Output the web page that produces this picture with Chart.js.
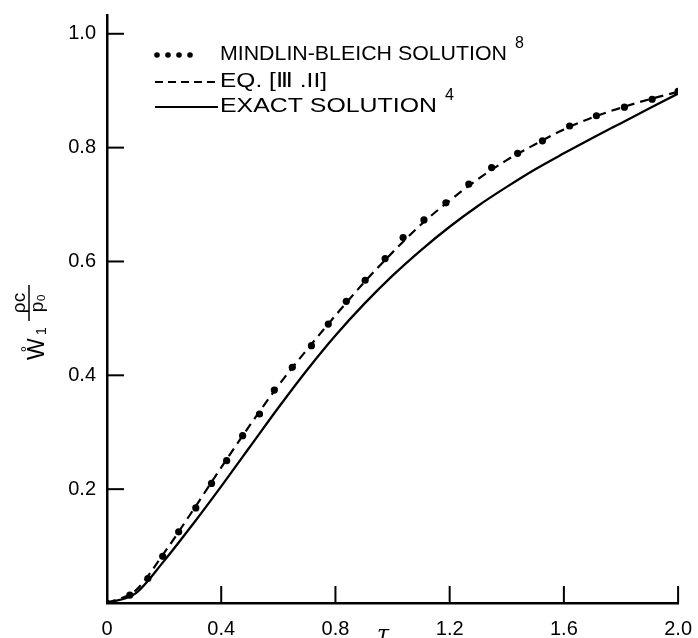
<!DOCTYPE html>
<html>
<head>
<meta charset="utf-8">
<script src="https://cdn.jsdelivr.net/npm/chart.js@4/dist/chart.umd.min.js"></script>
<style>
  html, body { margin: 0; padding: 0; background: #fff; }
</style>
</head>
<body>
<canvas id="chart" width="698" height="638"></canvas>
<script>
// Mindlin-Bleich solution (dots)
var mindlin_tau = [0, 0.08, 0.143, 0.195, 0.251, 0.311, 0.366, 0.419, 0.475, 0.534, 0.586, 0.649, 0.716, 0.775, 0.838, 0.904, 0.974, 1.037, 1.110, 1.187, 1.267, 1.347, 1.438, 1.525, 1.620, 1.714, 1.812, 1.909, 2.0]
var mindlin_w = [0, 0.014, 0.043, 0.082, 0.125, 0.167, 0.210, 0.250, 0.294, 0.332, 0.374, 0.414, 0.452, 0.490, 0.530, 0.567, 0.605, 0.642, 0.673, 0.703, 0.736, 0.765, 0.790, 0.812, 0.838, 0.856, 0.871, 0.885, 0.899]

// Eq. [III.11] (dashed) and exact solution (solid)
var curve_tau = [0, 0.1, 0.2, 0.3, 0.4, 0.5, 0.6, 0.7, 0.8, 0.9, 1.0, 1.1, 1.2, 1.3, 1.4, 1.5, 1.6, 1.7, 1.8, 1.9, 2.0]
var eq_w = [0, 0.022, 0.088, 0.162, 0.238, 0.312, 0.382, 0.445, 0.505, 0.563, 0.616, 0.665, 0.707, 0.745, 0.778, 0.806, 0.832, 0.853, 0.870, 0.885, 0.898]
var exact_w = [0, 0.017, 0.074, 0.138, 0.205, 0.274, 0.343, 0.409, 0.470, 0.525, 0.575, 0.620, 0.661, 0.698, 0.731, 0.762, 0.790, 0.817, 0.843, 0.869, 0.895]

var x_ticks = [0, 0.4, 0.8, 1.2, 1.6, 2.0]
var y_ticks = [0.2, 0.4, 0.6, 0.8, 1.0]

var legend_labels = ['MINDLIN-BLEICH SOLUTION', 'EQ. [\u2162 .II]', 'EXACT SOLUTION']
var legend_sups = ['8', '', '4']

function pairs(xs, ys) {
  return xs.map(function (x, i) { return { x: x, y: ys[i] } })
}

var FONT = '"Liberation Sans", Arial, sans-serif'

var decor = {
  id: 'decor',
  beforeDraw: function (chart) {
    var ctx = chart.ctx
    ctx.save()
    ctx.fillStyle = '#fff'
    ctx.fillRect(0, 0, chart.width, chart.height)
    ctx.restore()
  },
  afterDraw: function (chart) {
    var ctx = chart.ctx
    var xs = chart.scales.x, ys = chart.scales.y
    var area = chart.chartArea
    ctx.save()
    ctx.strokeStyle = '#000'
    ctx.fillStyle = '#000'

    // inward tick marks
    ctx.lineWidth = 2
    x_ticks.forEach(function (v) {
      if (v === 0) return
      var px = xs.getPixelForValue(v)
      ctx.beginPath(); ctx.moveTo(px, area.bottom); ctx.lineTo(px, area.bottom - 17); ctx.stroke()
    })
    y_ticks.forEach(function (v) {
      var py = ys.getPixelForValue(v)
      ctx.beginPath(); ctx.moveTo(area.left, py); ctx.lineTo(area.left + 17, py); ctx.stroke()
    })

    // legend
    var rows = [
      { y: 60, mark: 'dots', width: 287 },
      { y: 87, mark: 'dash', width: 107 },
      { y: 112, mark: 'line', width: 217 }
    ]
    rows.forEach(function (r, i) {
      if (r.mark === 'dots') {
        [157, 168, 179, 190].forEach(function (dx) {
          ctx.beginPath(); ctx.arc(dx, r.y - 5, 2.8, 0, Math.PI * 2); ctx.fill()
        })
      } else {
        ctx.lineWidth = 2
        ctx.setLineDash(r.mark === 'dash' ? [8, 5] : [])
        ctx.beginPath(); ctx.moveTo(155, r.y - 5); ctx.lineTo(218, r.y - 5); ctx.stroke()
        ctx.setLineDash([])
      }
      ctx.font = '20px ' + FONT
      ctx.textAlign = 'left'
      ctx.textBaseline = 'alphabetic'
      var w = ctx.measureText(legend_labels[i]).width
      ctx.save()
      ctx.translate(220, r.y)
      ctx.scale(r.width / w, 1)
      ctx.fillText(legend_labels[i], 0, 0)
      ctx.restore()
      if (legend_sups[i]) {
        ctx.font = '16px ' + FONT
        ctx.fillText(legend_sups[i], 220 + r.width + 8, r.y - 12)
      }
    })

    // x axis title
    ctx.font = 'italic 22px "DejaVu Serif", serif'
    ctx.textAlign = 'center'
    ctx.fillText('\u03c4', 383, 641)

    // y axis title, rotated
    ctx.save()
    ctx.translate(44, 360)
    ctx.rotate(-Math.PI / 2)
    ctx.textAlign = 'left'
    ctx.font = '23px ' + FONT
    ctx.fillText('W', 0, 0)
    ctx.font = '16px ' + FONT
    ctx.textAlign = 'center'
    ctx.fillText('\u00b0', 11, -11)
    ctx.font = '14px ' + FONT
    ctx.fillText('1', 29, 2)
    // fraction
    ctx.lineWidth = 1.5
    ctx.beginPath(); ctx.moveTo(39, -15); ctx.lineTo(75, -15); ctx.stroke()
    ctx.font = '19px ' + FONT
    ctx.fillText('\u03c1c', 57, -19)
    ctx.fillText('p\u2080', 57, -1)
    ctx.restore()

    ctx.restore()
  }
}

var ctx = document.getElementById('chart').getContext('2d')
var myChart = new Chart(ctx, {
  type: 'scatter',
  data: {
    datasets: [
      {
        label: 'EXACT SOLUTION',
        data: pairs(curve_tau, exact_w),
        showLine: true,
        borderColor: '#000',
        borderWidth: 2.3,
        pointRadius: 0,
        cubicInterpolationMode: 'monotone'
      },
      {
        label: 'EQ. [III.11]',
        data: pairs(curve_tau, eq_w),
        showLine: true,
        borderColor: '#000',
        borderWidth: 2.2,
        borderDash: [9, 6],
        pointRadius: 0,
        cubicInterpolationMode: 'monotone'
      },
      {
        label: 'MINDLIN-BLEICH SOLUTION',
        data: pairs(mindlin_tau, mindlin_w),
        showLine: false,
        pointRadius: 3.6,
        pointBackgroundColor: '#000',
        pointBorderWidth: 0
      }
    ]
  },
  options: {
    responsive: false,
    animation: false,
    layout: { padding: { top: 9, right: 18, left: 0, bottom: 0 } },
    plugins: { legend: { display: false }, tooltip: { enabled: false } },
    scales: {
      x: {
        type: 'linear',
        min: 0,
        max: 2.0,
        grid: { display: false },
        border: { color: '#000', width: 2.5 },
        afterBuildTicks: function (s) { s.ticks = x_ticks.map(function (v) { return { value: v } }) },
        afterFit: function (s) { s.height = 35 },
        ticks: {
          color: '#000',
          padding: 6,
          maxRotation: 0,
          autoSkip: false,
          font: { family: FONT, size: 20 },
          callback: function (v) { return v === 0 ? '0' : v.toFixed(1) }
        }
      },
      y: {
        min: 0,
        max: 1.033,
        grid: { display: false },
        border: { color: '#000', width: 2.5 },
        afterBuildTicks: function (s) { s.ticks = y_ticks.map(function (v) { return { value: v } }) },
        afterFit: function (s) { s.width = 107 },
        ticks: {
          color: '#000',
          padding: 3,
          font: { family: FONT, size: 20 },
          callback: function (v) { return v.toFixed(1) }
        }
      }
    }
  },
  plugins: [decor]
})
</script>
</body>
</html>
